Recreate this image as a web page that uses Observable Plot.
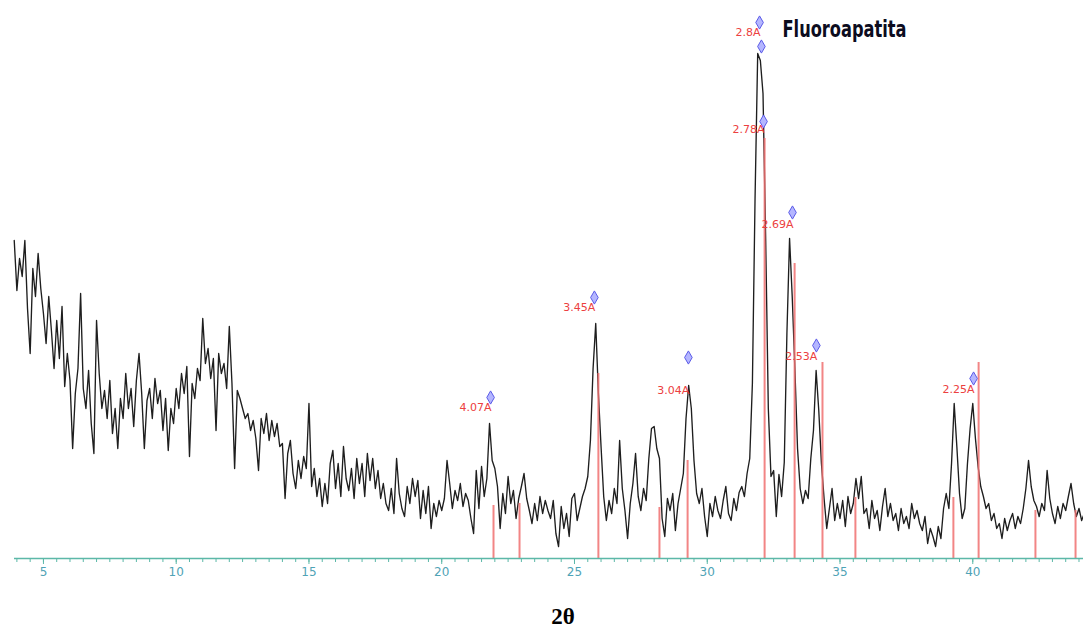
<!DOCTYPE html>
<html>
<head>
<meta charset="utf-8">
<script src="https://cdn.jsdelivr.net/npm/d3@7"></script>
<script src="https://cdn.jsdelivr.net/npm/@observablehq/plot@0.6"></script>
<style>
  html, body { margin: 0; padding: 0; background: #ffffff; }
  #wrap { position: relative; width: 1083px; height: 636px; overflow: hidden; }
  #xlabel { position: absolute; left: 563px; top: 603px; transform: translateX(-50%);
            font-family: "Liberation Serif", "DejaVu Serif", serif; font-weight: bold;
            font-size: 23px; line-height: 28px; color: #000; }
</style>
</head>
<body>
<div id="wrap">
  <div id="chart"></div>
  <div id="xlabel">2θ</div>
</div>
<script>
// ---------- data ----------
const twoThetaStart = 3.9;   // first sample (degrees 2θ)
const twoThetaStep = 0.1;    // sampling step (degrees)
const intensity = [
  318,
  268,300,282,318,250,205,290,262,305,270,   // 4
  245,215,262,228,190,238,200,252,172,205,   // 5
  178,110,165,190,265,170,150,188,135,105,   // 6
  238,185,150,168,140,178,125,150,110,160,   // 7
  140,185,150,170,132,178,205,165,110,158,   // 8
  170,140,180,155,168,128,160,108,150,135,   // 9
  170,150,185,165,192,102,175,160,190,178,   // 10
  240,195,210,180,200,128,205,185,195,170,   // 11
  232,175,90,168,160,150,140,145,128,138,    // 12
  120,88,140,125,145,118,138,122,135,112,    // 13
  115,60,105,118,85,70,98,80,102,90,         // 14
  155,72,90,62,80,52,75,55,95,108,           // 15
  70,95,62,112,80,68,90,60,100,75,           // 16
  95,62,105,78,100,70,88,60,75,55,           // 17
  48,70,45,100,65,50,42,72,55,80,            // 18
  62,78,40,68,45,72,30,55,42,58,             // 19
  48,60,98,75,50,68,58,75,52,65,             // 20
  58,40,25,88,50,92,62,80,135,98,            // 21
  90,72,30,65,45,82,55,68,40,60,             // 22
  72,85,60,48,35,55,38,62,45,58,             // 23
  48,40,58,25,12,52,30,45,22,60,             // 24
  65,38,50,62,70,82,118,190,235,165,         // 25
  112,62,38,58,45,70,55,118,70,48,           // 26
  20,55,75,105,62,48,70,58,100,130,          // 27
  132,110,100,40,22,60,48,65,28,55,          // 28
  70,85,140,173,150,98,65,55,70,42,          // 29
  22,55,42,62,48,40,58,72,45,38,             // 30
  60,48,66,72,62,85,100,175,360,505,         // 31
  498,465,320,150,82,88,42,84,62,96,         // 32
  225,320,262,190,110,70,55,68,60,100,       // 33
  128,188,148,95,60,30,50,70,38,55,          // 34
  40,58,32,62,45,55,80,60,82,45,             // 35
  50,30,58,40,48,28,52,70,42,55,             // 36
  38,45,28,50,35,42,30,55,40,48,             // 37
  35,28,42,15,30,22,12,32,20,50,             // 38
  65,50,95,155,112,65,40,50,95,130,          // 39
  155,120,92,72,62,50,55,38,45,30,           // 40
  35,20,40,28,38,45,30,42,35,50,             // 41
  70,98,72,58,52,42,55,48,88,60,             // 42
  45,35,52,40,55,48,62,75,55,42,             // 43
  50,38,45                                   // 44
];

// reference (stick) pattern of fluorapatite
const stickTwoTheta = [21.95, 22.93, 25.90, 28.20, 29.26, 32.16, 33.29, 34.34, 35.58, 39.27, 40.22, 42.36, 43.87];
const stickHeight   = [53, 55, 185, 51, 98, 420, 295, 196, 61, 61, 196, 48, 48];

// identified peaks: markers and d-spacing labels
const peakLabels   = ["4.07A", "3.45A", "3.04A", "2.8A", "", "2.78A", "2.69A", "2.53A", "2.25A"];
const markerTwoTheta = [21.84, 25.75, 29.29, 31.97, 32.04, 32.12, 33.21, 34.11, 40.03];
const markerHeight = [161, 261, 201, 536, 512, 437, 346, 213, 180];
const labelHeight  = [151, 251, 168, 526, null, 429, 334, 202, 169];

const tickLabels = [5, 10, 15, 20, 25, 30, 35, 40];
const titleText = "Fluoroapatita";

// ---------- build tables ----------
const pattern = intensity.map((v, i) => ({t: twoThetaStart + i * twoThetaStep, I: v}));
const sticks = stickTwoTheta.map((t, i) => ({t, I: stickHeight[i]}));
const markers = markerTwoTheta.map((t, i) => ({t, I: markerHeight[i], label: peakLabels[i], ly: labelHeight[i]}));
const labelled = markers.filter(d => d.label !== "");
const minorTicks = d3.range(4, 44.01, 0.5);

const axisColor = "#5cb8a8";
const tickTextColor = "#4fa3b6";

const chart = Plot.plot({
  width: 1083,
  height: 600,
  marginLeft: 14,
  marginRight: 0,
  marginTop: 0,
  marginBottom: 42,
  style: {fontFamily: "DejaVu Sans, sans-serif", background: "#ffffff"},
  x: {domain: [3.91, 44.17]},
  y: {domain: [0, 558], axis: null},
  marks: [
    Plot.line(pattern, {x: "t", y: "I", stroke: "#1e1e1e", strokeWidth: 1.35}),
    Plot.ruleX(sticks, {x: "t", y1: 0, y2: "I", stroke: "#f07070", strokeWidth: 2, strokeOpacity: 0.85}),
    Plot.ruleY([0], {stroke: axisColor, strokeWidth: 1.5}),
    Plot.axisX(minorTicks, {tickSize: 4, tickFormat: () => "", stroke: axisColor, label: null}),
    Plot.axisX(tickLabels, {tickSize: 6, tickPadding: 3, fontSize: 12, stroke: axisColor, fill: tickTextColor, label: null}),
    Plot.dot(markers, {x: "t", y: "I", symbol: "diamond", r: 4, fill: "#b4b6ff", stroke: "#5a5ae8", strokeWidth: 1}),
    Plot.text(labelled, {x: "t", y: "ly", text: "label", textAnchor: "end", dx: 1, fontSize: 11, fill: "#ec4040"}),
    Plot.text([titleText], {frameAnchor: "top-left", dx: 768, dy: 20, textAnchor: "start", lineAnchor: "top",
      fontSize: 23, fontWeight: "bold", fontFamily: "DejaVu Sans Condensed, DejaVu Sans, sans-serif", fill: "#0c0c1e"})
  ]
});
document.getElementById("chart").appendChild(chart);

// squeeze title to the condensed width seen in the reference
d3.select(chart).selectAll("text").filter(function() { return this.textContent === titleText; })
  .attr("textLength", 124).attr("lengthAdjust", "spacingAndGlyphs");
</script>
</body>
</html>
